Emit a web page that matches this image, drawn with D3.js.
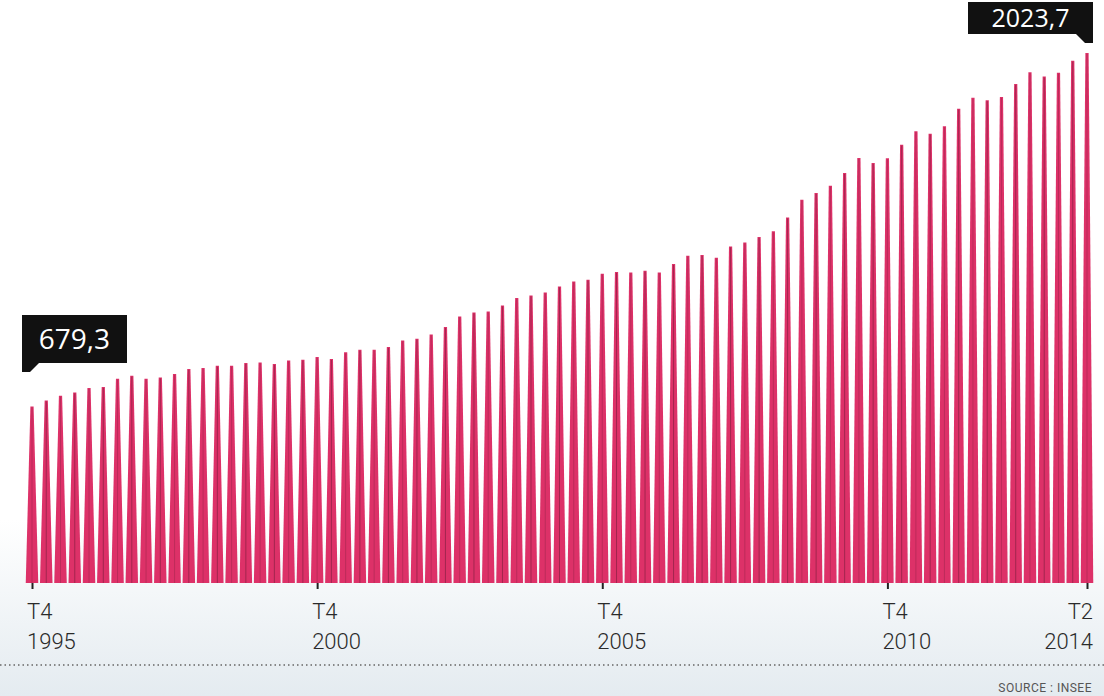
<!DOCTYPE html>
<html>
<head>
<meta charset="utf-8">
<script src="https://cdn.jsdelivr.net/npm/d3@7"></script>
<style>
  body { margin: 0; background: #fff; }
  svg { display: block; }
</style>
</head>
<body>
<div id="chart"></div>
<script>
// dette publique trimestrielle, en milliards d'euros
var firstYear = 1995, firstQuarter = 4;
var values = [679.3, 702.3, 720.1, 732.7, 749.4, 753.2, 784.8, 796.2, 784.8, 789.7,
  802.7, 821.7, 825.5, 834.3, 834.3, 844.5, 846.8, 840.7, 854.4, 857.1,
  867.3, 859.7, 884.9, 895.1, 895.1, 905.4, 930.5, 937.0, 953.3, 981.5,
  1021.8, 1037.0, 1040.8, 1063.6, 1091.8, 1101.7, 1113.1, 1135.9, 1154.9, 1161.4,
  1184.2, 1190.7, 1189.2, 1195.6, 1189.2, 1221.1, 1252.7, 1255.4, 1245.1, 1288.1,
  1303.3, 1323.8, 1345.2, 1398.4, 1465.7, 1491.2, 1519.0, 1567.3, 1624.3, 1605.4,
  1622.9, 1675.0, 1726.3, 1716.8, 1745.3, 1811.9, 1853.0, 1844.3, 1856.4, 1905.9,
  1950.8, 1934.4, 1948.9, 1994.6, 2023.7];
var tickQuarters = ["T4 1995", "T4 2000", "T4 2005", "T4 2010", "T2 2014"];

// libellés des trimestres
var quarters = [];
var yr = firstYear, q = firstQuarter;
values.forEach(function() {
    quarters.push("T" + q + " " + yr);
    q++;
    if (q > 4) { q = 1; yr++; }
});
var data = values.map(function(v, i) { return { quarter: quarters[i], value: v }; });

var width = 1104, height = 696;
var baseline = 583;

var svg = d3.select("#chart").append("svg")
    .attr("width", width)
    .attr("height", height);

// fond légèrement bleuté en bas (papier)
var defs = svg.append("defs");
var grad = defs.append("linearGradient").attr("id", "paper")
    .attr("x1", 0).attr("y1", 0).attr("x2", 0).attr("y2", 1);
grad.append("stop").attr("offset", "0%").attr("stop-color", "#ffffff");
grad.append("stop").attr("offset", "100%").attr("stop-color", "#e4ebf0");
svg.append("rect").attr("width", width).attr("height", height).attr("fill", "#fff");
svg.append("rect").attr("x", 0).attr("y", 520).attr("width", width).attr("height", 176)
    .attr("fill", "url(#paper)");

var x = d3.scalePoint().domain(quarters).range([32, 1087]);
var y = d3.scaleLinear().domain([0, 2023.7]).range([585, 53]);

var bottomW = 12.5, topW = 3.2;

// barres en pointe
svg.append("g").selectAll("path.bar")
    .data(data)
    .join("path")
    .attr("class", "bar")
    .attr("fill", "#dd3168")
    .attr("d", function(d) {
        var cx = x(d.quarter), top = y(d.value);
        return "M" + (cx - bottomW / 2) + "," + baseline +
            "L" + (cx - topW / 2) + "," + top +
            "L" + (cx + topW / 2) + "," + top +
            "L" + (cx + bottomW / 2) + "," + baseline + "Z";
    });

// trait sombre au centre (effet d'impression)
svg.append("g").selectAll("line")
    .data(data)
    .join("line")
    .attr("x1", function(d) { return x(d.quarter); })
    .attr("x2", function(d) { return x(d.quarter); })
    .attr("y1", function(d) { return y(d.value) + 1; })
    .attr("y2", baseline)
    .attr("stroke", "#4a1529")
    .attr("stroke-opacity", function(d, i) { return i % 2 ? 0.4 : 0.22; })
    .attr("stroke-width", 1);

// axe
var axis = d3.axisBottom(x).tickValues(tickQuarters).tickSize(6).tickFormat("");
var gx = svg.append("g").attr("transform", "translate(0," + baseline + ")").call(axis);
gx.select(".domain").remove();
gx.selectAll(".tick line").attr("stroke", "#222").attr("stroke-width", 2);

var lab = svg.append("g").selectAll("text")
    .data(tickQuarters)
    .join("text")
    .attr("x", function(d, i) { return i === tickQuarters.length - 1 ? x(d) + 6 : x(d) - 5; })
    .attr("text-anchor", function(d, i) { return i === tickQuarters.length - 1 ? "end" : "start"; })
    .attr("font-family", "Roboto, sans-serif")
    .attr("font-weight", 300)
    .attr("font-size", 22)
    .attr("fill", "#2a2a2a");
lab.append("tspan").attr("y", 619).attr("x", function() { return d3.select(this.parentNode).attr("x"); })
    .text(function(d) { return d.split(" ")[0]; });
lab.append("tspan").attr("y", 649).attr("x", function() { return d3.select(this.parentNode).attr("x"); })
    .text(function(d) { return d.split(" ")[1]; });

// étiquettes des valeurs extrêmes
var fmt = function(v) { return d3.format(".1f")(v).replace(".", ","); };
var first = data[0], last = data[data.length - 1];

function callout(d, side, bx, by, bw, bh, fs) {
    var g = svg.append("g");
    var px = side === "left" ? bx : bx + bw;
    var tip = side === "left"
        ? [[px, by + bh], [px + 17, by + bh], [px + 8, by + bh + 9], [px, by + bh + 9]]
        : [[px, by + bh], [px - 17, by + bh], [px - 8, by + bh + 9], [px, by + bh + 9]];
    g.append("rect").attr("x", bx).attr("y", by).attr("width", bw).attr("height", bh)
        .attr("fill", "#111");
    g.append("path").attr("d", d3.line()(tip) + "Z").attr("fill", "#111");
    g.append("text")
        .attr("x", bx + bw / 2).attr("y", by + bh - (bh - fs * 0.72) / 2)
        .attr("text-anchor", "middle")
        .attr("font-family", "'Open Sans', sans-serif")
        .attr("font-size", fs)
        .attr("fill", "#fff")
        .text(fmt(d.value));
}
callout(first, "left", 22, 315, 105, 48, 28);
callout(last, "right", 968, 2, 125, 32, 25);

// ligne pointillée + source
svg.append("line")
    .attr("x1", 0).attr("x2", width).attr("y1", 665).attr("y2", 665)
    .attr("stroke", "#666").attr("stroke-width", 1.5).attr("stroke-dasharray", "1.5,3");
svg.append("text")
    .attr("x", 1092).attr("y", 692)
    .attr("text-anchor", "end")
    .attr("font-family", "Roboto, sans-serif")
    .attr("font-size", 12)
    .attr("letter-spacing", 0.5)
    .attr("fill", "#555")
    .text("SOURCE : INSEE");
</script>
</body>
</html>
